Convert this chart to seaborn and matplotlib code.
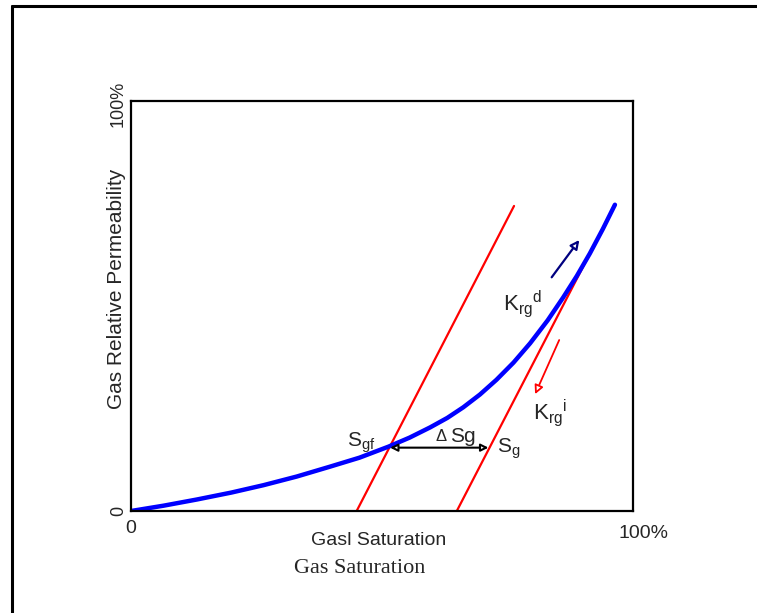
import matplotlib
matplotlib.use("Agg")
import matplotlib.pyplot as plt
from matplotlib.lines import Line2D
from matplotlib.transforms import ScaledTranslation
import seaborn as sns
import pandas as pd

# ---- data ----
sat_drain = [0.0, 0.065, 0.131, 0.2, 0.264, 0.33, 0.396, 0.455, 0.513, 0.555, 0.596,
             0.63, 0.662, 0.695, 0.728, 0.762, 0.795, 0.83, 0.861, 0.888, 0.914, 0.94, 0.964]
krg_drain = [0.0, 0.013, 0.028, 0.045, 0.063, 0.084, 0.108, 0.130, 0.157, 0.179, 0.204,
             0.227, 0.253, 0.284, 0.320, 0.362, 0.409, 0.465, 0.521, 0.573, 0.628, 0.688, 0.747]
sat_imb1 = [0.4495, 0.763]
krg_imb1 = [0.0, 0.744]
sat_imb2 = [0.649, 0.964]
krg_imb2 = [0.0, 0.746]
x_ticks = [0, 1]
x_tick_labels = ["0", "100%"]
y_ticks = [0, 1]
y_tick_labels = ["0", "100%"]
sgf_point = (0.516, 0.1545)
sg_point = (0.712, 0.1545)
arrow_d = [(0.838, 0.570), (0.893, 0.661)]
arrow_i = [(0.853, 0.417), (0.805, 0.285)]

sns.set_style("white")
plt.rcParams["font.family"] = ["Liberation Sans", "DejaVu Sans"]

fig = plt.figure(figsize=(7.57, 6.13), dpi=100)
ax = fig.add_axes([131 / 757, 1 - 511 / 613, 502 / 757, 410 / 613])

df_d = pd.DataFrame({"Sg": sat_drain, "Krg": krg_drain})
df_1 = pd.DataFrame({"Sg": sat_imb1, "Krg": krg_imb1})
df_2 = pd.DataFrame({"Sg": sat_imb2, "Krg": krg_imb2})

sns.lineplot(data=df_1, x="Sg", y="Krg", ax=ax, color="#ff0000", lw=1.6)
sns.lineplot(data=df_2, x="Sg", y="Krg", ax=ax, color="#ff0000", lw=1.6)
sns.lineplot(data=df_d, x="Sg", y="Krg", ax=ax, color="#0000ff", lw=3.2,
             solid_capstyle="round", solid_joinstyle="round")

ax.set_xlim(0, 1)
ax.set_ylim(0, 1)

for s in ax.spines.values():
    s.set_color("black")
    s.set_linewidth(1.6)
    s.set_visible(True)

ax.set_xticks(x_ticks)
ax.set_xticklabels(x_tick_labels, fontsize=14)
ax.set_yticks(y_ticks)
ax.set_yticklabels(y_tick_labels, fontsize=13, rotation=90, va="center")
ax.tick_params(axis="both", length=0)
ax.tick_params(axis="x", pad=6.5)
ax.tick_params(axis="y", pad=3)
lbl = ax.get_xticklabels()[1]
lbl.set_transform(lbl.get_transform() + ScaledTranslation(10 / 100, -5 / 100, fig.dpi_scale_trans))
ylbl = ax.get_yticklabels()[1]
ylbl.set_transform(ylbl.get_transform() + ScaledTranslation(0, -3 / 100, fig.dpi_scale_trans))

ax.set_xlabel("Gasl Saturation", fontsize=14, va="baseline")
ax.xaxis.set_label_coords((378.5 - 131) / 502, (511 - 545) / 410)
ax.set_ylabel("Gas Relative Permeability", fontsize=15, va="center")
ax.yaxis.set_label_coords((116 - 131) / 502, (511 - 289) / 410)

fig.text(360 / 757, 1 - 573 / 613, "Gas Saturation", fontsize=16,
         family="Liberation Serif", ha="center", va="baseline")

# annotations
ax.annotate("", xy=sg_point, xytext=sgf_point,
            arrowprops=dict(arrowstyle="<|-|>", ec="black", fc="white", lw=1.5,
                            mutation_scale=11, shrinkA=0, shrinkB=0))
ax.annotate("", xy=arrow_d[1], xytext=arrow_d[0],
            arrowprops=dict(arrowstyle="-|>", ec="#000080", fc="white", lw=1.6,
                            mutation_scale=13, shrinkA=0, shrinkB=0))
ax.annotate("", xy=arrow_i[1], xytext=arrow_i[0],
            arrowprops=dict(arrowstyle="-|>", ec="#ff0000", fc="white", lw=1.3,
                            mutation_scale=13, shrinkA=0, shrinkB=0))

ax.text(0.7404, 0.490, r"$\mathregular{K_{rg}{}^{d}}$", fontsize=16, va="baseline")
ax.text(0.800, 0.222, r"$\mathregular{K_{rg}{}^{i}}$", fontsize=16, va="baseline")
ax.text(0.430, 0.157, r"$\mathregular{S_{gf}}$", fontsize=15, va="baseline")
ax.text(0.607, 0.170, "Δ", fontsize=12, va="baseline")
ax.text(0.636, 0.169, "Sg", fontsize=15, va="baseline")
ax.text(0.729, 0.1415, r"$\mathregular{S_{g}}$", fontsize=15, va="baseline")

# outer frame (top and left edges)
fig.add_artist(Line2D([12 / 757, 1], [1 - 6 / 613, 1 - 6 / 613],
                      transform=fig.transFigure, color="black", lw=2.2))
fig.add_artist(Line2D([12 / 757, 12 / 757], [0, 1 - 6 / 613],
                      transform=fig.transFigure, color="black", lw=2.2))

fig.savefig("out.png", dpi=100)
